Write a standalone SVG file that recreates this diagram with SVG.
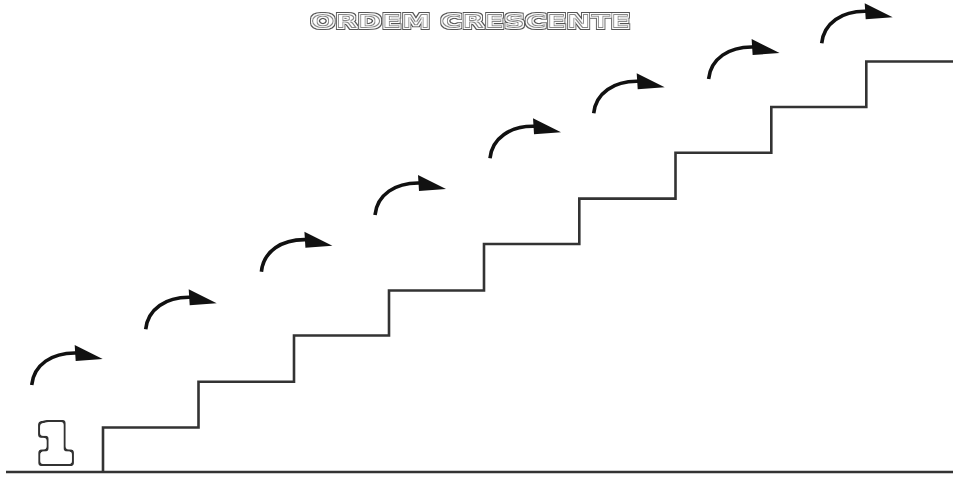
<svg xmlns="http://www.w3.org/2000/svg" xmlns:xlink="http://www.w3.org/1999/xlink" width="953" height="478" viewBox="0 0 953 478">
<style>
.line{fill:none;stroke:#333;stroke-width:2.6;stroke-linejoin:miter}
.arc{fill:none;stroke:#111;stroke-width:3.6}
.head{fill:#111}
.bub{fill:#000;font-family:"DejaVu Sans","Liberation Sans",sans-serif;font-weight:bold}
</style>
<defs>
<g id="arrow">
<path class="arc" d="M0,0 C2,-20 20,-33 46,-32"/>
<polygon class="head" points="43,-40 71,-26 44,-24"/>
</g>
<filter id="bubbleBig" x="-30%" y="-30%" width="160%" height="160%">
<feMorphology in="SourceAlpha" operator="dilate" radius="3" result="d1"/>
<feGaussianBlur in="d1" stdDeviation="1.6" result="b1"/>
<feComponentTransfer in="b1" result="fat"><feFuncA type="linear" slope="5" intercept="-2"/></feComponentTransfer>
<feMorphology in="SourceAlpha" operator="dilate" radius="5" result="d2"/>
<feGaussianBlur in="d2" stdDeviation="1.6" result="b2"/>
<feComponentTransfer in="b2" result="fatter"><feFuncA type="linear" slope="5" intercept="-2"/></feComponentTransfer>
<feFlood flood-color="#333" result="dark"/>
<feComposite in="dark" in2="fatter" operator="in" result="darkShape"/>
<feFlood flood-color="#fff" result="white"/>
<feComposite in="white" in2="fat" operator="in" result="whiteShape"/>
<feMerge><feMergeNode in="darkShape"/><feMergeNode in="whiteShape"/></feMerge>
</filter>
<filter id="bubbleSmall" x="-10%" y="-40%" width="120%" height="180%">
<feMorphology in="SourceAlpha" operator="dilate" radius="1.3" result="fat"/>
<feMorphology in="SourceAlpha" operator="dilate" radius="2.4" result="fatter"/>
<feFlood flood-color="#555" result="dark"/>
<feComposite in="dark" in2="fatter" operator="in" result="darkShape"/>
<feFlood flood-color="#fff" result="white"/>
<feComposite in="white" in2="fat" operator="in" result="whiteShape"/>
<feFlood flood-color="#888" result="mid"/>
<feComposite in="mid" in2="SourceAlpha" operator="in" result="midShape"/>
<feMorphology in="SourceAlpha" operator="erode" radius="0.8" result="core"/>
<feComposite in="white" in2="core" operator="in" result="coreShape"/>
<feMerge><feMergeNode in="darkShape"/><feMergeNode in="whiteShape"/><feMergeNode in="midShape"/><feMergeNode in="coreShape"/></feMerge>
</filter>
</defs>
<rect width="953" height="478" fill="#fff"/>
<g id="title">
<text class="bub" x="310.5" y="28" font-size="19" filter="url(#bubbleSmall)" textLength="320" lengthAdjust="spacingAndGlyphs">ORDEM CRESCENTE</text>
</g>
<g id="label-1">
<text class="bub" x="55" y="461" font-size="50" text-anchor="middle" filter="url(#bubbleBig)">1</text>
</g>
<g id="ground">
<path class="line" d="M6,472 H953"/>
</g>
<g id="stairs">
<path class="line" d="M103,472 V427.5 H198.5 V381.8 H294 V335.5 H389 V290.5 H484 V244 H579.3 V198.6 H675.5 V152.8 H771.3 V107 H866.3 V61.5 H953"/>
</g>
<g id="arrows">
<use xlink:href="#arrow" href="#arrow" x="31.7" y="385"/>
<use xlink:href="#arrow" href="#arrow" x="145.7" y="329.3"/>
<use xlink:href="#arrow" href="#arrow" x="261.4" y="271.7"/>
<use xlink:href="#arrow" href="#arrow" x="375" y="215"/>
<use xlink:href="#arrow" href="#arrow" x="490" y="158.3"/>
<use xlink:href="#arrow" href="#arrow" x="593.7" y="113.3"/>
<use xlink:href="#arrow" href="#arrow" x="708.6" y="79"/>
<use xlink:href="#arrow" href="#arrow" x="821.7" y="43.3"/>
</g>
</svg>
